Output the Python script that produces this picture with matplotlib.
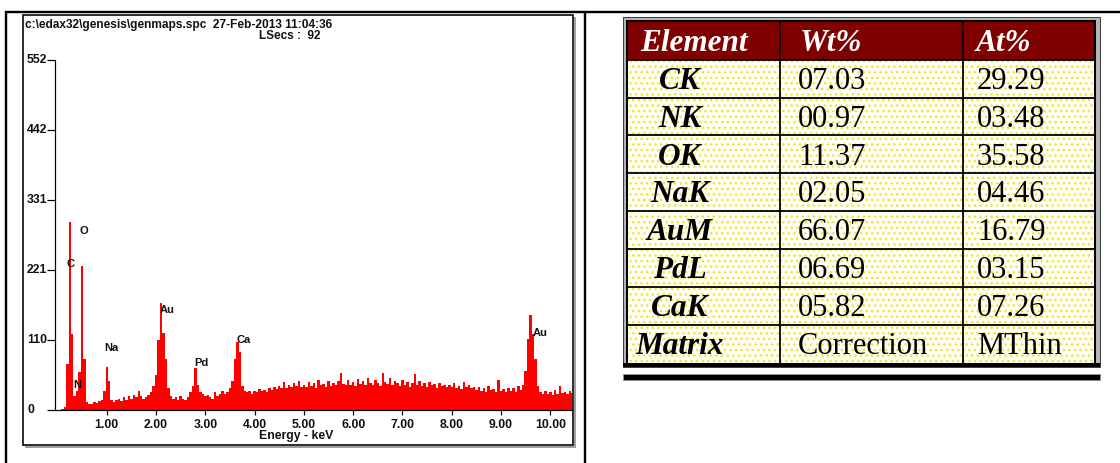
import numpy as np
import matplotlib.pyplot as plt
from matplotlib.patches import Rectangle
from matplotlib import transforms

# EDS spectrum, counts per 0.05 keV channel starting at 0.00 keV
energy_step = 0.05
counts = [
    # 0.00 - 0.95 keV
    0, 0, 2, 5, 72, 297, 120, 22, 30, 60, 227, 80, 12, 9, 10, 12, 11, 14, 16, 30,
    # 1.00 - 1.95 keV
    68, 45, 16, 12, 15, 18, 14, 20, 16, 22, 18, 24, 20, 30, 22, 18, 20, 24, 28, 38,
    # 2.00 - 2.95 keV
    55, 110, 169, 121, 80, 35, 22, 18, 20, 16, 22, 18, 15, 20, 28, 38, 66, 40, 28, 25,
    # 3.00 - 3.95 keV
    22, 24, 20, 18, 28, 22, 26, 30, 26, 28, 34, 45, 80, 108, 92, 38, 30, 28, 30, 26,
    # 4.00 - 4.95 keV
    30, 28, 33, 30, 32, 29, 34, 31, 36, 33, 38, 34, 44, 35, 40, 36, 42, 38, 45, 37,
    # 5.00 - 5.95 keV
    40, 36, 44, 38, 42, 35, 47, 39, 41, 37, 45, 38, 43, 40, 46, 58, 41, 39, 48, 40,
    # 6.00 - 6.95 keV
    44, 38, 49, 41, 46, 39, 51, 42, 40, 47, 43, 38, 58, 44, 41, 50, 39, 45, 42, 38,
    # 7.00 - 7.95 keV
    47, 40, 44, 37, 43, 57, 40, 45, 38, 42, 36, 44, 39, 41, 35, 43, 38, 40, 36, 39,
    # 8.00 - 8.95 keV
    37, 42, 35, 38, 33, 44, 36, 40, 34, 37, 32, 36, 30, 34, 29, 38, 31, 33, 28, 48,
    # 9.00 - 9.95 keV
    30, 33, 28, 35, 30, 34, 29, 38, 32, 40, 62, 112, 150, 120, 80, 38, 28, 26, 30, 25,
    # 10.00 - 10.45 keV
    28, 24, 31, 26, 38, 27, 29, 25, 30, 27,
]
energy = np.arange(len(counts)) * energy_step

y_ticks = [0, 110, 221, 331, 442, 552]
x_ticks = [1, 2, 3, 4, 5, 6, 7, 8, 9, 10]

peak_names = ['C', 'O', 'N', 'Na', 'Au', 'Pd', 'Ca', 'Au']
peak_pos = [(0.27, 231), (0.54, 282), (0.40, 39), (1.09, 98),
            (2.22, 157), (2.91, 74), (3.77, 111), (9.80, 122)]

# quantification table
elements = ['CK', 'NK', 'OK', 'NaK', 'AuM', 'PdL', 'CaK']
wt_pct = ['07.03', '00.97', '11.37', '02.05', '66.07', '06.69', '05.82']
at_pct = ['29.29', '03.48', '35.58', '04.46', '16.79', '03.15', '07.26']

PX = 0.72  # points per pixel at 100 dpi
sans = 'Liberation Sans'
serif = 'Liberation Serif'
ink = '#111111'

fig = plt.figure(figsize=(11.2, 4.63), dpi=100)
ov = fig.add_axes([0, 0, 1, 1])
ov.set_xlim(0, 1120)
ov.set_ylim(463, 0)
ov.axis('off')

# page frame
ov.plot([5, 1120], [12, 12], color='black', lw=2.4 * PX, solid_capstyle='butt')
ov.plot([6, 6], [11, 463], color='black', lw=2.4 * PX, solid_capstyle='butt')
ov.plot([585, 585], [11, 463], color='black', lw=2.4 * PX, solid_capstyle='butt')

# spectrum box with shadow
ov.plot([575, 575], [17, 448], color='#a0a0a0', lw=2 * PX, solid_capstyle='butt')
ov.plot([25, 576], [447, 447], color='#a0a0a0', lw=2 * PX, solid_capstyle='butt')
ov.add_patch(Rectangle((23, 15), 550, 430, fill=False, ec='black', lw=1.6 * PX))

ov.text(25, 25, r'c:\edax32\genesis\genmaps.spc  27-Feb-2013 11:04:36',
        fontsize=8.6, fontweight='bold', family=sans, va='center', color=ink)
ov.text(259, 36, 'LSecs :  92', fontsize=8.5, fontweight='bold', family=sans,
        va='center', color=ink)
ov.text(296, 436, 'Energy - keV', fontsize=8.8, fontweight='bold', family=sans,
        ha='center', va='center', color=ink)

ax = fig.add_axes([55 / 1120, 53 / 463, 517 / 1120, 350 / 463])
ax.patch.set_alpha(0)
ax.fill_between(energy, counts, step='mid', color='#ff0000', lw=0)
ax.set_xlim(-0.05, 10.44)
ax.set_ylim(0, 552)
for side in ['top', 'right']:
    ax.spines[side].set_visible(False)
for side in ['left', 'bottom']:
    ax.spines[side].set_linewidth(1.2 * PX)
ax.set_yticks(y_ticks)
ax.set_yticklabels([])
ax.set_xticks(x_ticks)
ax.set_xticklabels(['%.2f' % v for v in x_ticks])
ax.tick_params(axis='y', length=8 * PX, width=1.2 * PX)
ax.tick_params(axis='x', length=5 * PX, width=1.2 * PX, pad=3)
for lab in ax.get_xticklabels():
    lab.set_fontsize(8.8)
    lab.set_fontweight('bold')
    lab.set_family(sans)
    lab.set_color(ink)

# count labels sit left-aligned against the box edge
ytrans = transforms.blended_transform_factory(ov.transData, ax.transData)
for v in y_ticks:
    ov.text(27, v, str(v), transform=ytrans, fontsize=8.8, fontweight='bold',
            family=sans, ha='left', va='center', color=ink)

for name, (px, py) in zip(peak_names, peak_pos):
    ax.text(px, py, name, fontsize=8, fontweight='bold', family=sans,
            ha='center', va='center', color=ink)

# table
col_x = [628, 780, 963, 1094]
row_h = 37.9
top = 21.7
row_y = [top + row_h * i for i in range(10)]

ov.add_patch(Rectangle((622.5, 16.5), 477.5, 350, fc='#b4b4b4', ec='#404040', lw=1 * PX))
ov.add_patch(Rectangle((626, 20), 470, 344, fc='black', ec='none'))
ov.add_patch(Rectangle((col_x[0], row_y[0]), col_x[-1] - col_x[0], row_h - 0.3,
                       fc='#800000', ec='none'))
ov.add_patch(Rectangle((col_x[0], row_y[1]), col_x[-1] - col_x[0], row_y[-1] - row_y[1],
                       fc='#fffef4', ec='none'))
ov.add_patch(Rectangle((col_x[0], row_y[1]), col_x[-1] - col_x[0], row_y[-1] - row_y[1],
                       fill=False, hatch='...', ec='#f0e23c', lw=0))
for y in row_y[1:-1]:
    ov.plot([col_x[0], col_x[-1]], [y, y], color='black', lw=1.8 * PX, solid_capstyle='butt')
for x in col_x[1:-1]:
    ov.plot([x, x], [row_y[0], row_y[-1]], color='black', lw=1.8 * PX, solid_capstyle='butt')
ov.add_patch(Rectangle((622.5, 362.5), 477.5, 4.5, fc='black', ec='none'))
ov.add_patch(Rectangle((622.5, 374), 477.5, 5.5, fc='black', ec='#909090', lw=1 * PX))

head_font = dict(family=serif, fontsize=22.5, fontweight='bold', style='italic')
body_font = dict(family=serif, fontsize=22)

def baseline(i):
    return row_y[i + 1] - 8.7

ov.text(640, baseline(0), 'Element', color='white', **head_font)
ov.text(800, baseline(0), 'Wt%', color='white', **head_font)
ov.text(976, baseline(0), 'At%', color='white', **head_font)

rows = list(zip(elements, wt_pct, at_pct)) + [('Matrix', 'Correction', 'MThin')]
for i, (el, wt, at) in enumerate(rows, start=1):
    ov.text(680, baseline(i), el, color='black', ha='center', va='baseline', **head_font)
    ov.text(798, baseline(i), wt, color='black', va='baseline', **body_font)
    ov.text(977, baseline(i), at, color='black', va='baseline', **body_font)

fig.savefig('out.png', dpi=100)
